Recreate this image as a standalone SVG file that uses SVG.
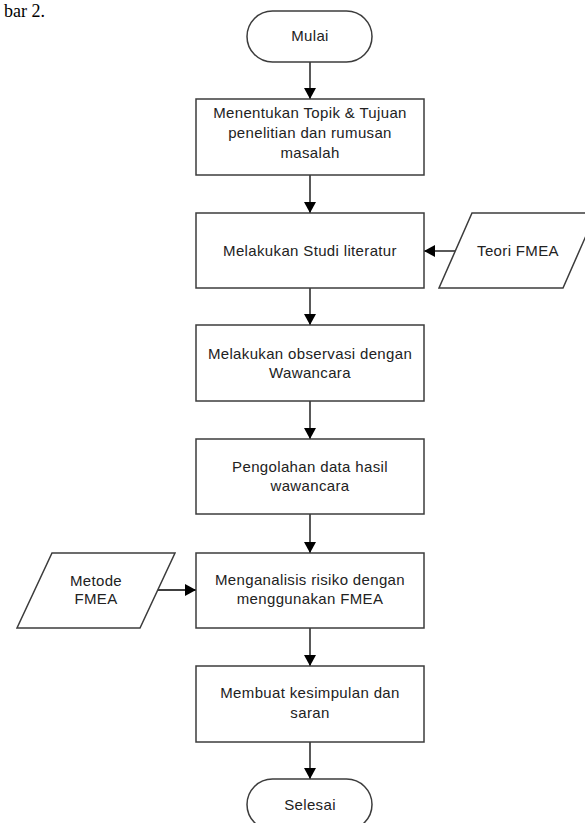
<svg xmlns="http://www.w3.org/2000/svg" width="585" height="823" viewBox="0 0 585 823">
<style>
.box{fill:#ffffff;stroke:#3c3c3c;stroke-width:1.5}
.t{font-family:"Liberation Sans",Arial,sans-serif;font-size:15px;fill:#222;text-anchor:middle;letter-spacing:0.35px}
.c{stroke:#000;stroke-width:1.3;fill:none}
.cap{font-family:"Liberation Serif","Times New Roman",serif;font-size:18px;fill:#000}
</style>
<defs>
<marker id="ah" viewBox="0 0 11 12" refX="11" refY="6" markerWidth="11" markerHeight="12" markerUnits="userSpaceOnUse" orient="auto">
<path d="M0,0 L11,6 L0,12 z" fill="#000"/>
</marker>
</defs>
<rect width="585" height="823" fill="#ffffff"/>
<text class="cap" x="4" y="17">bar 2.</text>
<g id="connectors">
<line class="c" x1="310" y1="62" x2="310" y2="99" marker-end="url(#ah)"/>
<line class="c" x1="310" y1="175" x2="310" y2="213" marker-end="url(#ah)"/>
<line class="c" x1="310" y1="288" x2="310" y2="325" marker-end="url(#ah)"/>
<line class="c" x1="310" y1="401" x2="310" y2="439" marker-end="url(#ah)"/>
<line class="c" x1="310" y1="514" x2="310" y2="553" marker-end="url(#ah)"/>
<line class="c" x1="310" y1="628" x2="310" y2="666" marker-end="url(#ah)"/>
<line class="c" x1="310" y1="742" x2="310" y2="779" marker-end="url(#ah)"/>
<line class="c" x1="456" y1="251" x2="424" y2="251" marker-end="url(#ah)"/>
<line class="c" x1="158" y1="590" x2="196" y2="590" marker-end="url(#ah)"/>
</g>
<g id="mulai">
<rect class="box" x="247" y="11" width="125" height="51" rx="25.5" ry="25.5"/>
<text class="t" x="310" y="41">Mulai</text>
</g>
<g id="menentukan">
<rect class="box" x="196" y="99" width="228" height="76"/>
<text class="t" x="310" y="118">Menentukan Topik &amp; Tujuan</text>
<text class="t" x="310" y="138">penelitian dan rumusan</text>
<text class="t" x="310" y="158">masalah</text>
</g>
<g id="studi">
<rect class="box" x="196" y="213" width="228" height="75"/>
<text class="t" x="310" y="256">Melakukan Studi literatur</text>
</g>
<g id="teori">
<polygon class="box" points="472,213 596,213 563,288 439,288"/>
<text class="t" x="518" y="256">Teori FMEA</text>
</g>
<g id="observasi">
<rect class="box" x="196" y="325" width="228" height="76"/>
<text class="t" x="310" y="359">Melakukan observasi dengan</text>
<text class="t" x="310" y="378">Wawancara</text>
</g>
<g id="pengolahan">
<rect class="box" x="196" y="439" width="228" height="75"/>
<text class="t" x="310" y="472">Pengolahan data hasil</text>
<text class="t" x="310" y="491">wawancara</text>
</g>
<g id="metode">
<polygon class="box" points="52,553 175,553 140,628 17,628"/>
<text class="t" x="96" y="586">Metode</text>
<text class="t" x="96" y="604">FMEA</text>
</g>
<g id="menganalisis">
<rect class="box" x="196" y="553" width="228" height="75"/>
<text class="t" x="310" y="585">Menganalisis risiko dengan</text>
<text class="t" x="310" y="604">menggunakan FMEA</text>
</g>
<g id="membuat">
<rect class="box" x="196" y="666" width="228" height="76"/>
<text class="t" x="310" y="698">Membuat kesimpulan dan</text>
<text class="t" x="310" y="718">saran</text>
</g>
<g id="selesai">
<rect class="box" x="247" y="779" width="125" height="51" rx="25.5" ry="25.5"/>
<text class="t" x="310" y="810">Selesai</text>
</g>
</svg>
